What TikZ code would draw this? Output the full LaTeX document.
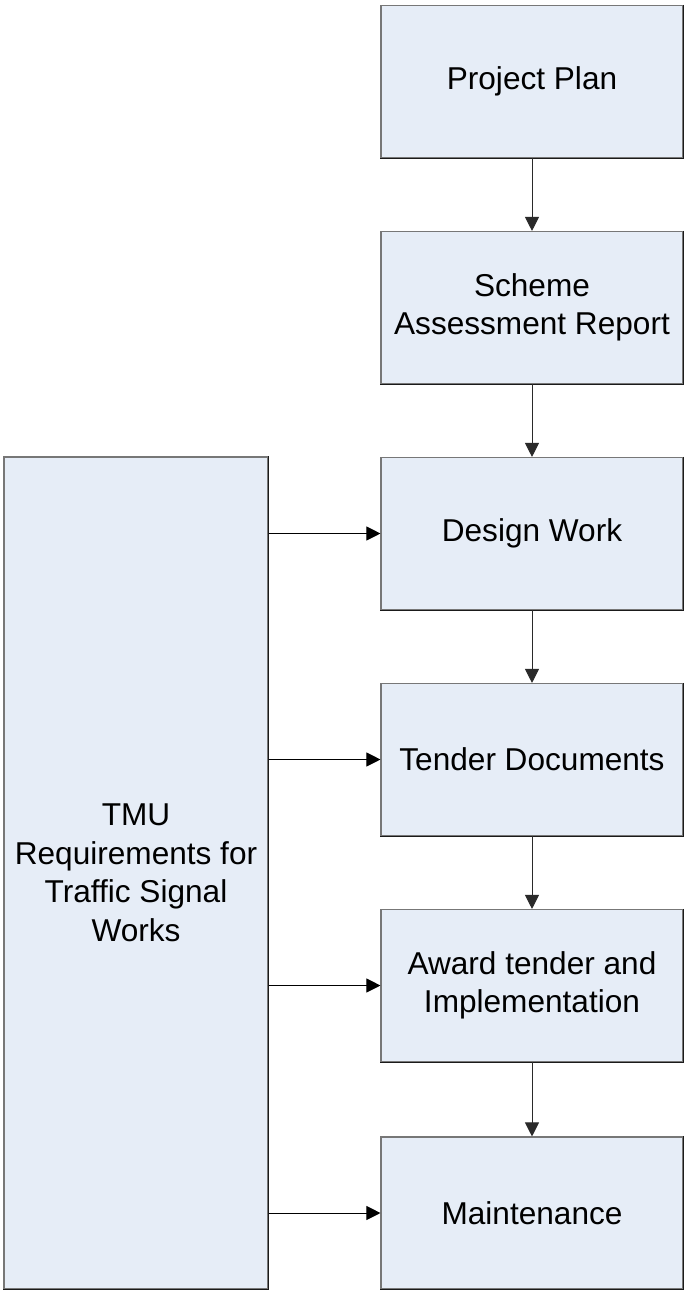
\documentclass[tikz,border=0pt]{standalone}
\usepackage{fontspec}
\setmainfont{Liberation Sans}
\usetikzlibrary{arrows.meta}
\definecolor{boxfill}{HTML}{E6EDF7}
\definecolor{boxline}{HTML}{777777}
\definecolor{boxshade}{HTML}{1A1A1A}
\definecolor{flowline}{HTML}{2A2A2A}
\begin{document}
\begin{tikzpicture}[x=1pt,y=-1pt,
  stagebox/.style={draw=boxline, line width=1.1pt, fill=boxfill,
    minimum width=302pt, minimum height=152pt, inner sep=0pt,
    align=center, font=\fontsize{31.6}{38.5}\selectfont},
  sidebox/.style={stagebox, minimum width=264pt, minimum height=832pt},
  edgeshade/.style={draw=boxshade, line width=1.1pt},
  flow/.style={draw=flowline, line width=1pt,
    -{Triangle[length=14pt,width=14pt]}},
  feed/.style={flow, draw=black}]
  \useasboundingbox (0,0) rectangle (684,1291);

  % main sequence of stages
  \node[stagebox] (plan)   at (532,81.5)   {Project Plan};
  \node[stagebox] (report) at (532,307.5)  {Scheme\\Assessment Report};
  \node[stagebox] (design) at (532,533.5)  {Design Work};
  \node[stagebox] (tender) at (532,759.5)  {Tender Documents};
  \node[stagebox] (award)  at (532,985.5)  {Award tender and\\Implementation};
  \node[stagebox] (maint)  at (532,1213)   {Maintenance};

  % requirements feeding every later stage
  \node[sidebox] (tmu) at (136,873)
    {TMU\\Requirements for\\Traffic Signal\\Works};

  % darker lower and right edges of the boxes
  \foreach \n in {plan,report,design,tender,award,maint,tmu}
    \draw[edgeshade] (\n.north east) -- (\n.south east) -- (\n.south west);

  % stage-to-stage flow
  \draw[flow] (plan)   -- (report);
  \draw[flow] (report) -- (design);
  \draw[flow] (design) -- (tender);
  \draw[flow] (tender) -- (award);
  \draw[flow] (award)  -- (maint);

  % requirements inputs
  \foreach \n in {design,tender,award,maint}
    \draw[feed] (tmu.east |- \n.west) -- (\n.west);
\end{tikzpicture}
\end{document}
